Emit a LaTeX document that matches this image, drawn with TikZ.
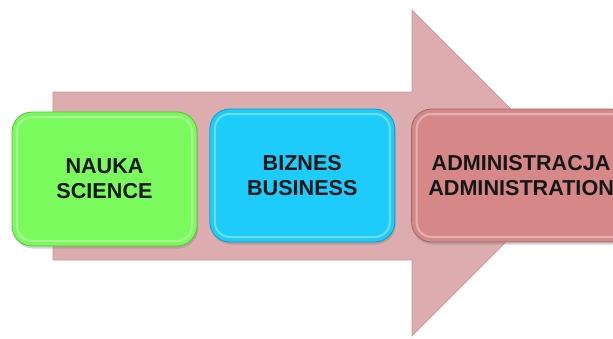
\documentclass[tikz,border=0pt]{standalone}
\usepackage{fontspec}
\setmainfont{Liberation Sans}
\usetikzlibrary{positioning, shadows}
\definecolor{arrowpink}{RGB}{221,172,175}
\definecolor{arrowedge}{RGB}{200,150,153}
\definecolor{naukagreen}{RGB}{122,250,92}
\definecolor{biznescyan}{RGB}{30,204,252}
\definecolor{adminred}{RGB}{214,136,136}
\definecolor{labeltext}{RGB}{22,22,22}
\tikzset{
  box/.style={rectangle, rounded corners=20pt, draw=#1!75!black, line width=0.8pt,
    fill=#1, inner sep=0pt, minimum height=134pt, align=center,
    text=labeltext, font=\fontsize{21.6}{25}\selectfont\bfseries,
    drop shadow={opacity=.35, shadow xshift=1pt, shadow yshift=-2.5pt},
    path picture={\draw[white, opacity=.35, line width=2pt, rounded corners=15pt]
      ([shift={(5pt,-5pt)}]path picture bounding box.north west) rectangle
      ([shift={(-5pt,5pt)}]path picture bounding box.south east);}},
}
\begin{document}
\begin{tikzpicture}[x=1pt, y=-1pt]
	\useasboundingbox (0,0) rectangle (613,338);
	\clip (0,0) rectangle (613,338);
	% big arrow behind the boxes
	\fill[arrowpink, draw=arrowedge, line width=0.6pt] (53,92) -- (412,92) -- (412,10) -- (575,173)
		-- (412,336) -- (412,260) -- (53,260) -- cycle;
	\node[box=naukagreen, minimum width=185pt] (nauka) at (104.5,179) {NAUKA\\SCIENCE};
	\node[box=biznescyan, minimum width=185pt, minimum height=133pt, yshift=3.5pt] (biznes) [right=12pt of nauka] {BIZNES\\BUSINESS};
	\node[box=adminred, minimum width=219pt, minimum height=133pt] (admin) [right=16pt of biznes] {ADMINISTRACJA\\ADMINISTRATION};
\end{tikzpicture}
\end{document}
